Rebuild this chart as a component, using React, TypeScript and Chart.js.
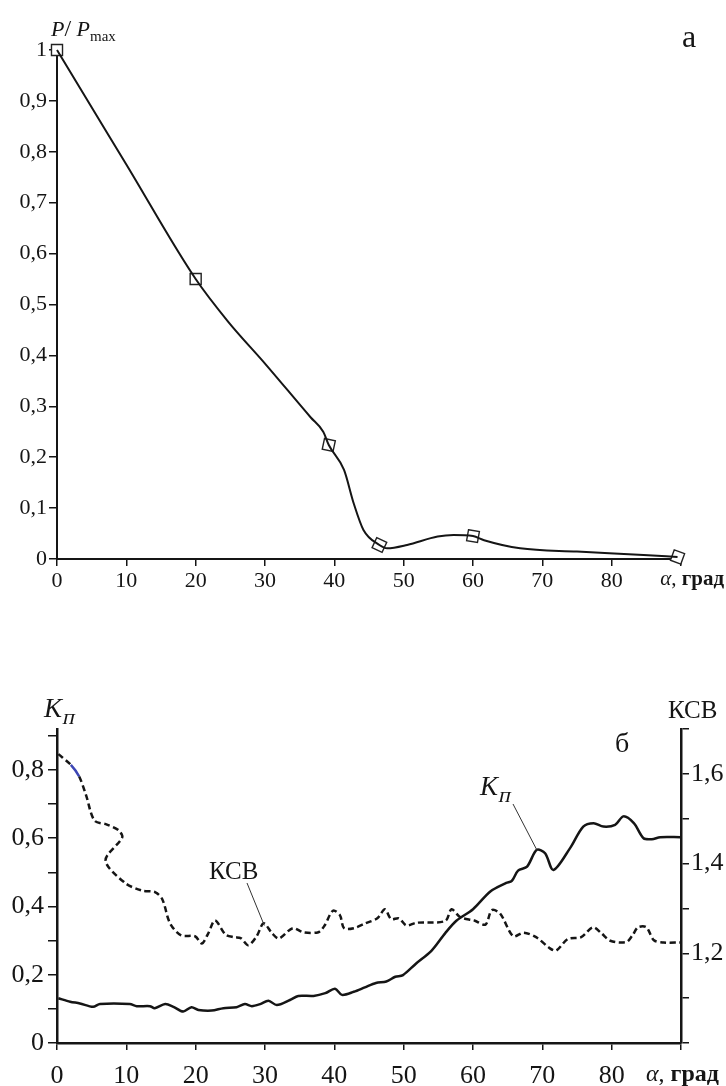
import React, { useEffect, useRef } from 'react';
import Chart from 'chart.js/auto';

// ---------- data: chart (а) ----------
const topCurveX = [0, 10, 20, 24.7, 30, 36.6, 38.4, 39.2, 41.4, 42.8, 44.2, 46.5, 47.6, 50.5, 54.9, 57.2, 60, 61.6, 66.8, 75, 84.6, 89.5];
const topCurveY = [1, 0.775, 0.55, 0.466, 0.384, 0.278, 0.25, 0.224, 0.175, 0.109, 0.057, 0.0275, 0.021, 0.0275, 0.044, 0.047, 0.045, 0.037, 0.021, 0.0145, 0.008, 0.004];
const topMarkX = [0, 20, 39.2, 46.5, 60, 89.5];
const topMarkY = [1, 0.55, 0.224, 0.0275, 0.045, 0.004];
const topMarkRot = [0, 0, 12, 25, 10, 20];

// ---------- data: chart (б) ----------
const kpX = [0.2, 1.9, 3.3, 5.2, 6.2, 10.5, 11.5, 13.4, 14.1, 15.6, 16.8, 18.2, 19.4, 20.4, 22.3, 24.0, 25.9, 27.1, 28.1, 29.3, 30.5, 31.7, 33.6, 34.8, 37.0, 38.7, 40.1, 41.1, 42.8, 44.4, 46.0, 47.5, 48.8, 49.9, 51.8, 54.0, 56.0, 57.6, 60.0, 62.5, 64.8, 65.6, 66.5, 67.8, 69.2, 70.4, 71.6, 74.0, 75.9, 77.4, 78.8, 80.5, 81.7, 83.2, 84.6, 85.8, 87.0, 89.9];
const kpY = [0.131, 0.121, 0.116, 0.106, 0.114, 0.114, 0.108, 0.108, 0.102, 0.114, 0.106, 0.092, 0.105, 0.097, 0.095, 0.102, 0.105, 0.114, 0.108, 0.114, 0.124, 0.111, 0.126, 0.138, 0.138, 0.146, 0.159, 0.141, 0.15, 0.163, 0.176, 0.18, 0.194, 0.199, 0.233, 0.27, 0.322, 0.358, 0.392, 0.444, 0.469, 0.475, 0.505, 0.517, 0.566, 0.556, 0.507, 0.571, 0.634, 0.644, 0.634, 0.639, 0.664, 0.644, 0.6, 0.597, 0.603, 0.603];

const ksvX = [0.2, 2.0, 3.2, 4.2, 5.4, 7.2, 8.9, 9.4, 7.0, 9.8, 12.2, 14.2, 15.2, 16.3, 17.9, 19.9, 20.9, 21.8, 22.8, 24.3, 25.5, 26.5, 27.6, 28.8, 29.8, 31.0, 32.0, 34.0, 35.5, 37.7, 38.6, 39.8, 40.8, 41.4, 42.8, 44.5, 46.2, 47.3, 48.2, 49.3, 50.4, 51.8, 56.0, 56.9, 58.2, 60.2, 61.8, 62.7, 63.9, 65.8, 67.3, 69.1, 71.1, 72.0, 73.7, 75.6, 77.3, 78.5, 79.8, 82.1, 83.0, 83.8, 85.0, 86.1, 87.5, 89.9];
const ksvY = [1.644, 1.62, 1.594, 1.552, 1.496, 1.487, 1.474, 1.458, 1.407, 1.357, 1.34, 1.336, 1.32, 1.267, 1.24, 1.238, 1.222, 1.244, 1.273, 1.242, 1.236, 1.234, 1.218, 1.238, 1.267, 1.245, 1.233, 1.256, 1.247, 1.247, 1.262, 1.295, 1.285, 1.256, 1.256, 1.267, 1.278, 1.298, 1.276, 1.278, 1.262, 1.268, 1.272, 1.298, 1.28, 1.273, 1.264, 1.296, 1.289, 1.238, 1.246, 1.236, 1.211, 1.206, 1.232, 1.236, 1.258, 1.245, 1.228, 1.225, 1.24, 1.258, 1.258, 1.229, 1.224, 1.224];

const xMaxLabeled = 80;

const FONT = "'Liberation Serif', 'Times New Roman', serif";
const INK = '#151515';

function fmt(v: number): string {
  const r = Math.round(v * 10) / 10;
  return String(r).replace('.', ',');
}

type Piece = { t: string; font: string; dy?: number; skew?: number };
function drawPieces(ctx: CanvasRenderingContext2D, pieces: Piece[], x: number, y: number, align: 'left' | 'right' = 'left') {
  let total = 0;
  const widths: number[] = [];
  for (const p of pieces) {
    ctx.font = p.font;
    const w = ctx.measureText(p.t).width;
    widths.push(w);
    total += w;
  }
  let cx = align === 'right' ? x - total : x;
  pieces.forEach((p, i) => {
    ctx.font = p.font;
    if (p.skew) {
      ctx.save();
      ctx.translate(cx, y + (p.dy || 0));
      ctx.transform(1, 0, -p.skew, 1, 0, 0);
      ctx.fillText(p.t, 0, 0);
      ctx.restore();
    } else {
      ctx.fillText(p.t, cx, y + (p.dy || 0));
    }
    cx += widths[i];
  });
}

function axisCommon(size: number, tickLen: number, pad: number, bw: number) {
  return {
    ticks: { color: INK, padding: pad, font: { family: FONT, size } },
    grid: { display: true, drawOnChartArea: false, drawTicks: true, tickLength: tickLen, color: INK, lineWidth: 1.5 },
    border: { display: true, color: INK, width: bw },
  };
}

const kpLabel = (x: number, y: number): [Piece[], number, number] => [[
  { t: 'K', font: `italic 27px ${FONT}` },
  { t: 'п', font: `22px ${FONT}`, dy: 7, skew: 0.22 },
], x, y];

function TopChart() {
  const ref = useRef<HTMLCanvasElement>(null);
  useEffect(() => {
    const annot = {
      id: 'annotTop',
      afterDraw(chart: any) {
        const ctx = chart.ctx as CanvasRenderingContext2D;
        ctx.save();
        ctx.fillStyle = INK;
        ctx.textBaseline = 'alphabetic';
        drawPieces(ctx, [
          { t: 'P', font: `italic 22px ${FONT}` },
          { t: '/', font: `24px ${FONT}` },
          { t: ' P', font: `italic 22px ${FONT}` },
          { t: 'max', font: `15px ${FONT}`, dy: 5 },
        ], 51, 36);
        ctx.font = `32px ${FONT}`;
        ctx.fillText('а', 682, 47);
        drawPieces(ctx, [
          { t: 'α', font: `italic 21px ${FONT}` },
          { t: ', ', font: `21px ${FONT}` },
          { t: 'град', font: `bold 21px ${FONT}` },
        ], 724, 585, 'right');
        ctx.restore();
      },
    };
    const xs = axisCommon(22, 7, 2, 2);
    const ys = axisCommon(22, 8, 2, 2);
    const chart = new Chart(ref.current!, {
      type: 'line',
      data: {
        datasets: [
          {
            data: topCurveX.map((x, i) => ({ x, y: topCurveY[i] })),
            borderColor: INK,
            borderWidth: 2,
            pointRadius: 0,
            cubicInterpolationMode: 'monotone',
            clip: false,
          } as any,
          {
            data: topMarkX.map((x, i) => ({ x, y: topMarkY[i] })),
            showLine: false,
            pointStyle: 'rect',
            pointRadius: 7.8,
            pointRotation: topMarkRot,
            pointBackgroundColor: '#ffffff',
            pointBorderColor: '#222',
            pointBorderWidth: 1.4,
            clip: false,
          } as any,
        ],
      },
      options: {
        responsive: false,
        animation: false,
        devicePixelRatio: 1,
        layout: { padding: { top: 50, right: 45, left: 0, bottom: 0 } },
        plugins: { legend: { display: false }, tooltip: { enabled: false } },
        scales: {
          x: {
            type: 'linear', min: 0, max: 90,
            afterFit: (s: any) => { s.height = 41; },
            ...xs,
            ticks: { ...xs.ticks, stepSize: 10, autoSkip: false, maxRotation: 0, callback: (v: any) => (v <= xMaxLabeled ? String(v) : '') },
          },
          y: {
            type: 'linear', min: 0, max: 1,
            afterFit: (s: any) => { s.width = 57; },
            ...ys,
            ticks: { ...ys.ticks, stepSize: 0.1, autoSkip: false, callback: (v: any) => fmt(v) },
          },
        },
      } as any,
      plugins: [annot],
    });
    return () => chart.destroy();
  }, []);
  return <canvas ref={ref} width={726} height={600} style={{ position: 'absolute', left: 0, top: 0, width: 726, height: 600 }} />;
}

function BottomChart() {
  const ref = useRef<HTMLCanvasElement>(null);
  useEffect(() => {
    const annot = {
      id: 'annotBottom',
      afterDraw(chart: any) {
        const ctx = chart.ctx as CanvasRenderingContext2D;
        const sx = chart.scales.x, yl = chart.scales.yL, yr = chart.scales.yR;
        ctx.save();
        ctx.fillStyle = INK;
        ctx.strokeStyle = '#333';
        ctx.lineWidth = 1;
        ctx.textBaseline = 'alphabetic';
        // axis titles
        drawPieces(ctx, ...kpLabel(44, 117));
        ctx.font = `25px ${FONT}`;
        ctx.fillText('КСВ', 668, 118);
        ctx.font = `28px ${FONT}`;
        ctx.fillText('б', 615, 152);
        // curve labels with leader lines
        drawPieces(ctx, ...kpLabel(480, 195));
        ctx.beginPath();
        ctx.moveTo(513, 204);
        ctx.lineTo(sx.getPixelForValue(69.2), yl.getPixelForValue(0.566));
        ctx.stroke();
        ctx.font = `25px ${FONT}`;
        ctx.fillText('КСВ', 209, 279);
        ctx.beginPath();
        ctx.moveTo(247, 283);
        ctx.lineTo(sx.getPixelForValue(29.9), yr.getPixelForValue(1.262));
        ctx.stroke();
        drawPieces(ctx, [
          { t: 'α', font: `italic 24px ${FONT}` },
          { t: ', ', font: `24px ${FONT}` },
          { t: 'град', font: `bold 24px ${FONT}` },
        ], 646, 481);
        ctx.restore();
      },
    };
    const xs = axisCommon(26, 7, 11, 2.5);
    const ls = axisCommon(26, 9, 4, 2.5);
    const rs = axisCommon(26, 8, 2, 2.5);
    const chart = new Chart(ref.current!, {
      type: 'line',
      data: {
        datasets: [
          {
            data: kpX.map((x, i) => ({ x, y: kpY[i] })),
            yAxisID: 'yL',
            borderColor: INK,
            borderWidth: 2.5,
            pointRadius: 0,
            tension: 0.3,
            clip: false,
          } as any,
          {
            data: ksvX.map((x, i) => ({ x, y: ksvY[i] })),
            yAxisID: 'yR',
            borderColor: INK,
            borderWidth: 2.5,
            borderDash: [6, 3.5],
            pointRadius: 0,
            tension: 0.3,
            clip: false,
            segment: {
              borderColor: (c: any) => (c.p0DataIndex === 1 ? '#3c46b4' : undefined),
              borderDash: (c: any) => (c.p0DataIndex === 1 ? [] : undefined),
            },
          } as any,
        ],
      },
      options: {
        responsive: false,
        animation: false,
        devicePixelRatio: 1,
        layout: { padding: { top: 129, right: 0, left: 0, bottom: 0 } },
        plugins: { legend: { display: false }, tooltip: { enabled: false } },
        scales: {
          x: {
            type: 'linear', min: 0, max: 90,
            afterFit: (s: any) => { s.height = 43; },
            ...xs,
            ticks: { ...xs.ticks, stepSize: 10, autoSkip: false, maxRotation: 0, callback: (v: any) => (v <= xMaxLabeled ? String(v) : '') },
          },
          yL: {
            type: 'linear', position: 'left', min: 0, max: 0.92,
            afterFit: (s: any) => { s.width = 57; },
            ...ls,
            ticks: { ...ls.ticks, stepSize: 0.1, autoSkip: false, includeBounds: false, callback: (v: any) => (Math.round(v * 10) % 2 === 0 ? fmt(v) : '') },
          },
          yR: {
            type: 'linear', position: 'right', min: 1.0, max: 1.7,
            afterFit: (s: any) => { s.width = 45; },
            ...rs,
            ticks: { ...rs.ticks, stepSize: 0.1, autoSkip: false, callback: (v: any) => { const k = Math.round(v * 10); return k % 2 === 0 && k >= 12 && k <= 16 ? fmt(v) : ''; } },
          },
        },
      } as any,
      plugins: [annot],
    });
    return () => chart.destroy();
  }, []);
  return <canvas ref={ref} width={726} height={486} style={{ position: 'absolute', left: 0, top: 600, width: 726, height: 486 }} />;
}

export default function App() {
  return (
    <div style={{ position: 'absolute', left: 0, top: 0, width: 726, height: 1086, background: '#ffffff', overflow: 'hidden' }}>
      <TopChart />
      <BottomChart />
    </div>
  );
}
